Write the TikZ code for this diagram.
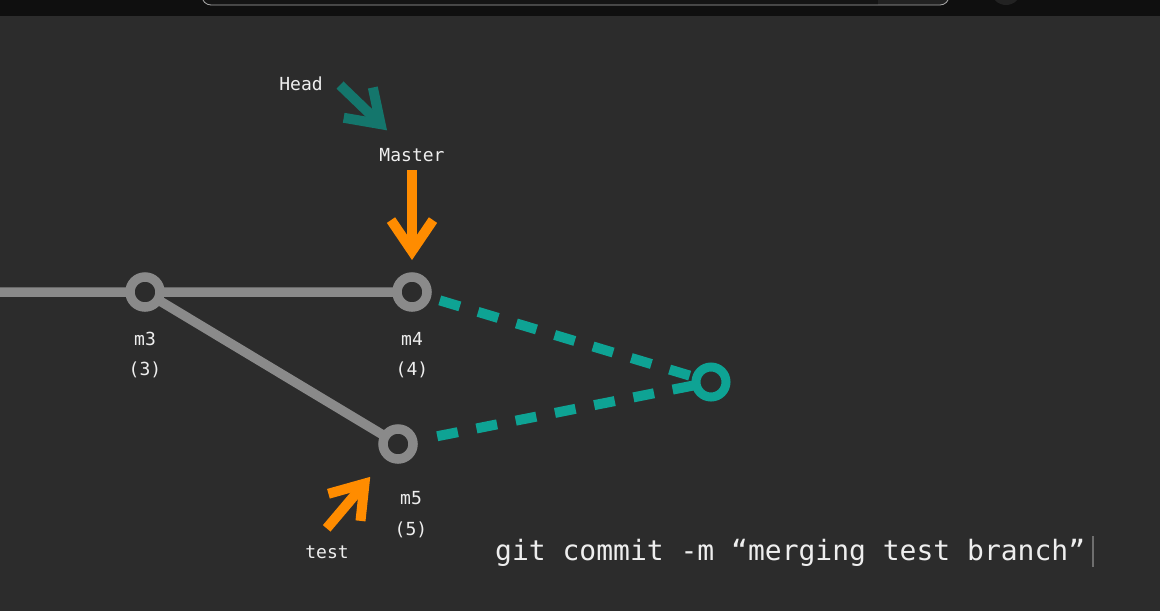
\documentclass[tikz,border=0pt]{standalone}
\usepackage{fontspec}
\setmonofont{DejaVu Sans Mono}
\usetikzlibrary{positioning,arrows.meta}
\definecolor{bgdark}{RGB}{44,44,44}
\definecolor{bardark}{RGB}{15,15,15}
\definecolor{barfield}{RGB}{20,20,20}
\definecolor{barbutton}{RGB}{34,34,34}
\definecolor{commitgray}{RGB}{138,138,138}
\definecolor{mergeteal}{RGB}{14,163,148}
\definecolor{headteal}{RGB}{20,118,108}
\definecolor{branchorange}{RGB}{255,140,0}
\definecolor{labelwhite}{RGB}{238,238,238}
\definecolor{cursorgray}{RGB}{110,110,110}

\begin{document}
\begin{tikzpicture}[x=1pt,y=-1pt,
  commit/.style={circle, draw=commitgray, fill=bgdark, line width=9.5pt, minimum size=30pt, inner sep=0pt, outer sep=0pt},
  txt/.style={text=labelwhite, font=\ttfamily\fontsize{18}{20}\selectfont, inner sep=0pt, text height=18pt, text depth=4pt},
  pointer/.style={line width=10pt, -{Straight Barb[length=31pt,width=42pt]}},
  todo/.style={mergeteal, line width=10pt, dash pattern=on 21pt off 19pt}]
  \useasboundingbox (0,0) rectangle (1160,611);
  % window background and top bar:
  \fill [bgdark] (0,0) rectangle (1160,611);
  \fill [bardark] (0,0) rectangle (1160,16);
  \begin{scope}
    \clip [rounded corners=9pt] (202,-20) rectangle (949,5);
    \fill [barfield] (202,-20) rectangle (878,5);
    \fill [barbutton] (878,-20) rectangle (949,5);
  \end{scope}
  \draw [draw=cursorgray!60, line width=0.8pt, rounded corners=9pt] (202,-20) rectangle (949,5);
  \fill [barbutton] (1006,-10) circle (15);

  % commits:
  \node [commit] (m3) at (145,292) {};
  \node [commit] (m4) at (412,292) {};
  \node [commit] (m5) at (398,444) {};
  \node [commit, draw=mergeteal, line width=9pt, minimum size=30pt] (merge) at (711,382) {};

  \node [txt, on grid, below=46pt of m3] (m3txt) {m3};
  \node [txt, on grid, below=30pt of m3txt] (m3num) {(3)};
  \node [txt, on grid, below=46pt of m4] (m4txt) {m4};
  \node [txt, on grid, below=30pt of m4txt] (m4num) {(4)};
  \node [txt, on grid, below right=53pt and 13pt of m5] (m5txt) {m5};
  \node [txt, on grid, below=31pt of m5txt] (m5num) {(5)};

  % branch pointers:
  \node [txt, on grid, above=138pt of m4] (master) {Master};
  \node [txt, on grid, above left=71pt and 111pt of master] (head) {Head};
  \node [txt, on grid, below left=107pt and 71pt of m5] (test) {test};

  \coordinate (tail) at (0,292);
  \draw [commitgray, line width=9.5pt] (tail) -- (m3) (m3) -- (m4) (m3) -- (m5);

  % merge commit to come:
  \draw [todo, shorten <=14pt, shorten >=3pt] (m4) -- (merge);
  \draw [todo, shorten <=25pt, shorten >=3pt] (m5) -- (merge);

  \draw [pointer, branchorange, shorten <=5pt, shorten >=17pt] (master) -- (m4);
  \draw [pointer, headteal, shorten <=3pt, shorten >=18pt] ([xshift=15pt]head.east) -- ([xshift=-12pt]master.north);
  \draw [pointer, branchorange, shorten <=15pt, shorten >=28pt] ([xshift=-10pt]test.north) -- (m5);

  \node [text=labelwhite, font=\ttfamily\fontsize{28}{32}\selectfont, anchor=base west, inner sep=0pt] (cmd) at (495,560) {git commit -m “merging test branch”};
  \draw [cursorgray, line width=1.2pt] (1093,536) -- (1093,567);
\end{tikzpicture}
\end{document}
